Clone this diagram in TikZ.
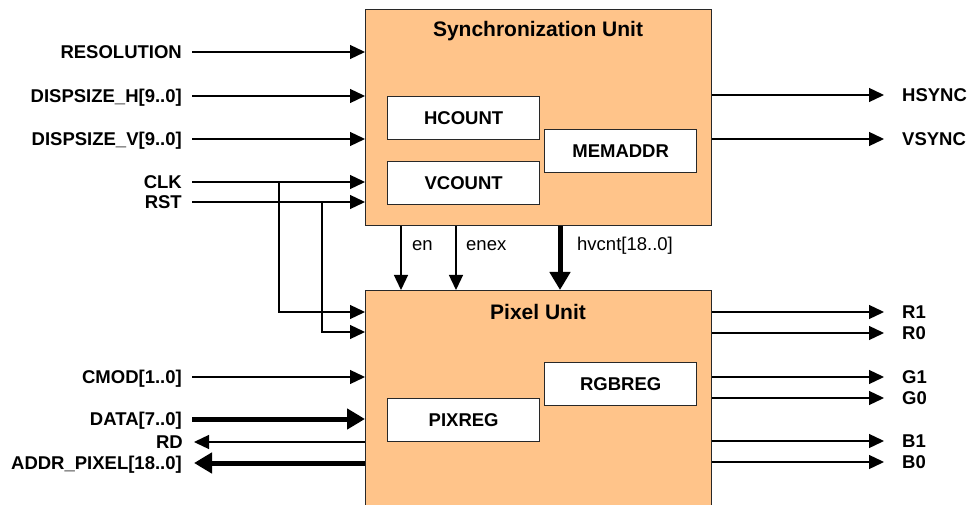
\documentclass[tikz,border=0pt]{standalone}
\usepackage{fontspec}
\setmainfont{Liberation Sans}
\usetikzlibrary{arrows.meta}
\definecolor{unitfill}{RGB}{255,196,138}
\definecolor{edge}{RGB}{40,40,40}
\begin{document}
\begin{tikzpicture}[x=1pt,y=-1pt,
 unitbox/.style={draw=edge, line width=1.3pt, fill=unitfill, anchor=north west, inner sep=0pt, minimum width=346pt},
 subbox/.style={draw=edge, line width=1.3pt, fill=white, anchor=north west, inner sep=0pt, minimum width=152pt, minimum height=43pt, font=\fontsize{18.5}{20}\selectfont\bfseries},
 lbl/.style={font=\fontsize{18.5}{20}\selectfont\bfseries, inner sep=0pt, text height=13.2pt, text depth=0pt},
 sml/.style={font=\fontsize{18.5}{20}\selectfont, inner sep=0pt, anchor=base west},
 ttl/.style={font=\fontsize{21}{24}\selectfont\bfseries, inner sep=0pt},
 sig/.style={line width=1.3pt, -{Triangle[length=15pt,width=14pt]}},
 bus/.style={line width=5pt, -{Triangle[length=18pt,width=20pt]}},
 wire/.style={line width=1.3pt},
]
\useasboundingbox (0,0) rectangle (967,505);

% units
\node[unitbox, minimum height=216pt] (sync) at (365,9) {};
\node[unitbox, minimum height=230pt] (pixel) at (365,290) {};
\node[ttl] (synct) at (538,31) {Synchronization Unit};
\node[ttl] (pixelt) at (538,312) {Pixel Unit};

\node[subbox] (hcount) at (387,96) {HCOUNT};
\node[subbox] (vcount) at (387,161) {VCOUNT};
\node[subbox] (memaddr) at (544,129) {MEMADDR};
\node[subbox] (rgbreg) at (544,362) {RGBREG};
\node[subbox] (pixreg) at (387,398) {PIXREG};

% left labels and input coordinates
\node[lbl, anchor=east] (tres) at (182,52) {RESOLUTION};
\node[lbl, anchor=east] (tdh) at (182,96) {DISPSIZE\_H[9..0]};
\node[lbl, anchor=east] (tdv) at (182,139) {DISPSIZE\_V[9..0]};
\node[lbl, anchor=east] (tclk) at (182,182) {CLK};
\node[lbl, anchor=east] (trst) at (182,202) {RST};
\node[lbl, anchor=east] (tcmod) at (182,377) {CMOD[1..0]};
\node[lbl, anchor=east] (tdata) at (182,419) {DATA[7..0]};
\node[lbl, anchor=east] (trd) at (183,442) {RD};
\node[lbl, anchor=east] (taddr) at (182,463) {ADDR\_PIXEL[18..0]};

\coordinate (ires) at (192,52);
\coordinate (idh) at (192,96);
\coordinate (idv) at (192,139);
\coordinate (iclk) at (192,182);
\coordinate (irst) at (192,202);
\coordinate (icmod) at (192,377);
\coordinate (idata) at (192,419);
\coordinate (ord) at (194,442);
\coordinate (oaddr) at (194,463);
\coordinate (clkbr) at (279,182);
\coordinate (rstbr) at (322,202);

\draw[sig] (ires) -- (ires -| sync.west);
\draw[sig] (idh) -- (idh -| sync.west);
\draw[sig] (idv) -- (idv -| sync.west);
\draw[sig] (iclk) -- (iclk -| sync.west);
\draw[sig] (irst) -- (irst -| sync.west);
\draw[sig] (clkbr) |- ([yshift=-22pt]pixel.north west);
\draw[sig] (rstbr) |- ([yshift=-42pt]pixel.north west);
\draw[sig] (icmod) -- (icmod -| pixel.west);
\draw[bus] (idata) -- (idata -| pixel.west);
\draw[sig] (ord -| pixel.west) -- (ord);
\draw[bus] (oaddr -| pixel.west) -- (oaddr);

% between units
\draw[sig] ([xshift=36pt]sync.south west) -- ([xshift=36pt]pixel.north west);
\draw[sig] ([xshift=91pt]sync.south west) -- ([xshift=91pt]pixel.north west);
\draw[bus] ([xshift=195pt]sync.south west) -- ([xshift=195pt]pixel.north west);
\node[sml] (ten) at (412,251) {en};
\node[sml] (tenex) at (466,251) {enex};
\node[sml] (thv) at (577,251) {hvcnt[18..0]};

% outputs
\coordinate (ohs) at (884,95);
\coordinate (ovs) at (884,139);
\coordinate (or1) at (884,312);
\coordinate (or0) at (884,333);
\coordinate (og1) at (884,377);
\coordinate (og0) at (884,398);
\coordinate (ob1) at (884,441);
\coordinate (ob0) at (884,462);
\draw[sig] (ohs -| sync.east) -- (ohs);
\draw[sig] (ovs -| sync.east) -- (ovs);
\draw[sig] (or1 -| pixel.east) -- (or1);
\draw[sig] (or0 -| pixel.east) -- (or0);
\draw[sig] (og1 -| pixel.east) -- (og1);
\draw[sig] (og0 -| pixel.east) -- (og0);
\draw[sig] (ob1 -| pixel.east) -- (ob1);
\draw[sig] (ob0 -| pixel.east) -- (ob0);
\node[lbl, anchor=west] (ths) at (902,95) {HSYNC};
\node[lbl, anchor=west] (tvs) at (902,139) {VSYNC};
\node[lbl, anchor=west] (tr1) at (902,312) {R1};
\node[lbl, anchor=west] (tr0) at (902,333) {R0};
\node[lbl, anchor=west] (tg1) at (902,377) {G1};
\node[lbl, anchor=west] (tg0) at (902,398) {G0};
\node[lbl, anchor=west] (tb1) at (902,441) {B1};
\node[lbl, anchor=west] (tb0) at (902,462) {B0};
\end{tikzpicture}
\end{document}
